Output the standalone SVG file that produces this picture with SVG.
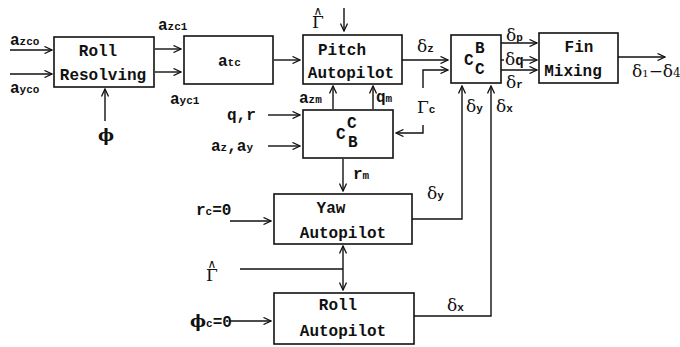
<svg xmlns="http://www.w3.org/2000/svg" width="680" height="347" viewBox="0 0 680 347">
<style>
.box{fill:#fff;stroke:#111;stroke-width:1.6}
.bt{font-family:"Liberation Mono","DejaVu Sans Mono",monospace;font-weight:bold;font-size:16px;fill:#111;text-anchor:middle}
.lb{font-family:"Liberation Mono","DejaVu Sans Mono",monospace;font-weight:bold;font-size:16px;fill:#111}
.gk{font-family:"DejaVu Serif","Liberation Serif",serif;font-size:17px;fill:#111}
.s{font-size:11px}
.c{fill:none;stroke:#111;stroke-width:1.4}
.a{marker-end:url(#ah)}
</style>
<defs>
<marker id="ah" markerWidth="9" markerHeight="8" refX="8" refY="4" orient="auto" markerUnits="userSpaceOnUse">
<path d="M0.5,0.5 L8,4 L0.5,7.5" fill="none" stroke="#111" stroke-width="1.3"/>
</marker>
</defs>

<g id="roll-resolving">
<rect class="box" x="54" y="37" width="100" height="50"/>
<text class="bt" x="98" y="56">Roll</text>
<text class="bt" x="103" y="80">Resolving</text>
</g>
<g id="atc">
<rect class="box" x="184" y="36" width="89" height="48"/>
<text class="lb" x="218" y="66">a<tspan class="s">tc</tspan></text>
</g>
<g id="pitch-autopilot">
<rect class="box" x="303" y="35" width="99" height="49"/>
<text class="bt" x="342" y="55">Pitch</text>
<text class="bt" x="351" y="78">Autopilot</text>
</g>
<g id="cbc">
<rect class="box" x="303" y="110" width="90" height="48"/>
<text class="lb" x="336" y="139" font-size="16">C</text>
<text class="lb" x="347" y="128" font-size="11">C</text>
<text class="lb" x="348" y="147" font-size="11">B</text>
</g>
<g id="ccb">
<rect class="box" x="451" y="35" width="50" height="48"/>
<text class="lb" x="464" y="65" font-size="16">C</text>
<text class="lb" x="475" y="53" font-size="11">B</text>
<text class="lb" x="475" y="74" font-size="11">C</text>
</g>
<g id="fin-mixing">
<rect class="box" x="539" y="33" width="79" height="50"/>
<text class="bt" x="579" y="52">Fin</text>
<text class="bt" x="573" y="76">Mixing</text>
</g>
<g id="yaw-autopilot">
<rect class="box" x="274" y="194" width="138" height="50"/>
<text class="bt" x="331" y="213">Yaw</text>
<text class="bt" x="343" y="238">Autopilot</text>
</g>
<g id="roll-autopilot">
<rect class="box" x="274" y="293" width="140" height="51"/>
<text class="bt" x="338" y="310">Roll</text>
<text class="bt" x="343" y="336">Autopilot</text>
</g>

<g id="connectors">
<path class="c a" d="M10,50 H52"/>
<path class="c a" d="M10,74 H52"/>
<path class="c a" d="M105,121 V89"/>
<path class="c a" d="M155,49 H181"/>
<path class="c a" d="M155,72 H181"/>
<path class="c a" d="M274,60 H300"/>
<path class="c a" d="M344,8 V31"/>
<path class="c a" d="M402,60 H448"/>
<path class="c a" d="M423,88 V70 H448"/>
<path class="c a" d="M423,125 V133 H396"/>
<path class="c a" d="M333,109 V86"/>
<path class="c a" d="M373,109 V86"/>
<path class="c a" d="M268,115 H300"/>
<path class="c a" d="M268,146 H300"/>
<path class="c a" d="M343,159 V191"/>
<path class="c a" d="M230,221 H271"/>
<path class="c" d="M240,269 H343"/>
<path class="c a" d="M343,269 V246"/>
<path class="c a" d="M343,269 V290"/>
<path class="c a" d="M230,321 H271"/>
<path class="c a" d="M412,219 H462 V86"/>
<path class="c a" d="M414,316 H491 V86"/>
<path class="c a" d="M501,43 H537"/>
<path class="c" d="M501,60 H504"/>
<path class="c a" d="M523,60 H537"/>
<path class="c a" d="M501,70 H537"/>
<path class="c a" d="M618,57 H665"/>
</g>

<g id="labels">
<text class="lb" x="10" y="45">a<tspan class="s">zco</tspan></text>
<text class="lb" x="10" y="93">a<tspan class="s">yco</tspan></text>
<text class="lb" x="158" y="30">a<tspan class="s">zc1</tspan></text>
<text class="lb" x="170" y="104">a<tspan class="s">yc1</tspan></text>
<text class="gk" x="106" y="141" text-anchor="middle" font-size="19" font-weight="bold">ϕ</text>
<text class="gk" x="318" y="28" text-anchor="middle" font-size="18">Γ<tspan x="318" y="15" font-size="12">∧</tspan></text>
<text class="gk" x="417" y="52">δ<tspan class="s" font-weight="bold" font-family="Liberation Mono">z</tspan></text>
<text class="gk" x="417" y="113">Γ<tspan class="s" font-weight="bold" font-family="Liberation Mono">c</tspan></text>
<text class="lb" x="299" y="103">a<tspan class="s">zm</tspan></text>
<text class="lb" x="376" y="102">q<tspan class="s">m</tspan></text>
<text class="lb" x="227" y="120">q,r</text>
<text class="lb" x="211" y="151">a<tspan class="s">z</tspan>,a<tspan class="s">y</tspan></text>
<text class="lb" x="353" y="179">r<tspan class="s">m</tspan></text>
<text class="gk" x="466" y="112">δ<tspan class="s" font-weight="bold" font-family="Liberation Mono">y</tspan></text>
<text class="gk" x="496" y="112">δ<tspan class="s" font-weight="bold" font-family="Liberation Mono">x</tspan></text>
<text class="gk" x="506" y="41">δ<tspan class="s" font-weight="bold" font-family="Liberation Mono">p</tspan></text>
<text class="gk" x="505" y="65">δ<tspan font-size="14" font-weight="bold" font-family="Liberation Mono">q</tspan></text>
<text class="gk" x="506" y="88">δ<tspan class="s" font-weight="bold" font-family="Liberation Mono">r</tspan></text>
<text class="gk" x="632" y="77" font-size="15">δ<tspan font-size="10">1</tspan>−δ<tspan font-size="12">4</tspan></text>
<text class="lb" x="196" y="215">r<tspan class="s">c</tspan>=0</text>
<text class="gk" x="212" y="281" text-anchor="middle" font-size="18">Γ<tspan x="212" y="268" font-size="12">∧</tspan></text>
<text class="lb" x="190" y="327"><tspan font-family="DejaVu Serif" font-size="17">ϕ</tspan><tspan class="s">c</tspan>=0</text>
<text class="gk" x="427" y="199">δ<tspan class="s" font-weight="bold" font-family="Liberation Mono">y</tspan></text>
<text class="gk" x="447" y="311">δ<tspan class="s" font-weight="bold" font-family="Liberation Mono">x</tspan></text>
</g>
</svg>
